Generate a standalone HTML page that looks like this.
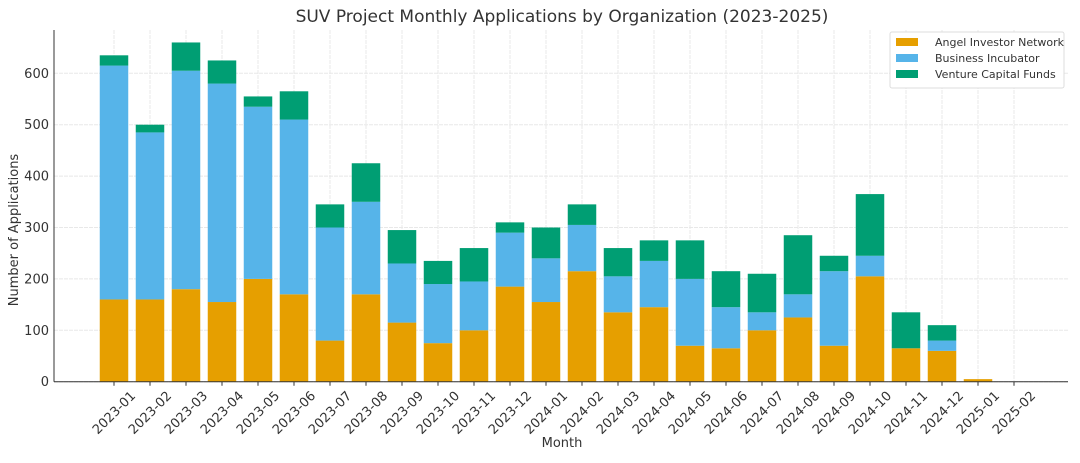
<!DOCTYPE html>
<html><head><meta charset="utf-8"><style>
body{margin:0;background:#fff;font-family:"Liberation Sans","DejaVu Sans",sans-serif;}
svg text{font-family:"DejaVu Sans","Liberation Sans",sans-serif;fill:#333;}
</style></head><body>
<svg id="c" width="1080" height="458">
<text x="562" y="22" font-size="17" text-anchor="middle">SUV Project Monthly Applications by Organization (2023-2025)</text>
<g id="grid"></g><g id="bars"></g><g id="axes"></g>
<text x="562" y="447" font-size="13" text-anchor="middle">Month</text>
<text transform="translate(18,230) rotate(-90)" font-size="13" text-anchor="middle">Number of Applications</text>
<g>
<rect x="890" y="32" width="174" height="56" fill="#fff" stroke="#ddd" rx="2"/>
<g><rect x="896" y="38" width="22" height="8" fill="#E69F00"/><text x="935" y="46" font-size="11">Angel Investor Network</text></g>
<g><rect x="896" y="54" width="22" height="8" fill="#56B4E9"/><text x="935" y="62" font-size="11">Business Incubator</text></g>
<g><rect x="896" y="70" width="22" height="8" fill="#009E73"/><text x="935" y="78" font-size="11">Venture Capital Funds</text></g>
</g>
</svg>
<script>
const categories=["2023-01","2023-02","2023-03","2023-04","2023-05","2023-06","2023-07","2023-08","2023-09","2023-10","2023-11","2023-12","2024-01","2024-02","2024-03","2024-04","2024-05","2024-06","2024-07","2024-08","2024-09","2024-10","2024-11","2024-12","2025-01","2025-02"];
const angel=[160,160,180,155,200,170,80,170,115,75,100,185,155,215,135,145,70,65,100,125,70,205,65,60,5,0];
const business=[455,325,425,425,335,340,220,180,115,115,95,105,85,90,70,90,130,80,35,45,145,40,0,20,0,0];
const venture=[20,15,55,45,20,55,45,75,65,45,65,20,60,40,55,40,75,70,75,115,30,120,70,30,0,0];
const yTicks=[0,100,200,300,400,500,600];
const NS="http://www.w3.org/2000/svg";
const y0=381.7, pxPer=0.514;
const yS=v=>y0-v*pxPer;
const xS=i=>114+i*36;
const bw=28.5;
function mk(tag,attrs,parent){const e=document.createElementNS(NS,tag);for(const k in attrs)e.setAttribute(k,attrs[k]);parent.appendChild(e);return e;}
const grid=document.getElementById('grid'),bars=document.getElementById('bars'),axes=document.getElementById('axes');
yTicks.forEach(t=>{
  const l=mk('line',{x1:54,x2:1068,y1:yS(t),y2:yS(t),stroke:'#e8e8e8','stroke-dasharray':'4,1'},grid);
  
  
  const tx=mk('text',{x:49,y:yS(t)+4.5,'font-size':13,'text-anchor':'end'},axes);
  tx.textContent=t;
  
  
});
categories.forEach((c,i)=>{
  const x=xS(i);
  const g=mk('line',{x1:x,x2:x,y1:30,y2:y0,stroke:'#e8e8e8','stroke-dasharray':'4,1'},grid);
  
  
  const segs=[[angel[i],'#E69F00','angel'],[business[i],'#56B4E9','business'],[venture[i],'#009E73','venture']];
  let base=0;
  segs.forEach(s=>{
    if(s[0]>0){
      const r=mk('rect',{x:x-bw/2,y:yS(base+s[0]),width:bw,height:s[0]*pxPer,fill:s[1]},bars);
      
      
    }
    base+=s[0];
  });
  mk('line',{x1:x,x2:x,y1:y0,y2:y0+4,stroke:'#333'},axes);
  const tl=mk('text',{transform:`translate(${x+3},${y0+34}) rotate(-45)`,'font-size':13,'text-anchor':'middle'},axes);
  tl.textContent=c;
  
  
});
const xa=mk('line',{x1:54,x2:1068,y1:y0,y2:y0,stroke:'#333','stroke-width':1},axes);


const ya=mk('line',{x1:54,x2:54,y1:30,y2:y0,stroke:'#333','stroke-width':1},axes);


</script>
</body></html>
